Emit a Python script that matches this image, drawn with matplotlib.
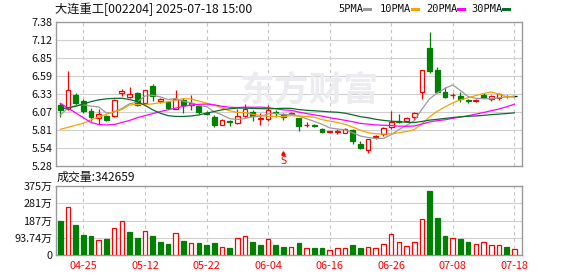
import numpy as np
import pandas as pd
import matplotlib
matplotlib.use("Agg")
import matplotlib.pyplot as plt
from matplotlib.lines import Line2D

plt.rcParams['font.family'] = ['Noto Sans CJK SC', 'DejaVu Sans']

# --- data ---
title = "大连重工[002204] 2025-07-18 15:00"

opens = [6.167, 6.109, 6.312, 6.225, 6.075, 5.969, 6.008, 5.998, 6.336, 6.278,
         6.345, 6.190, 6.445, 6.230, 6.215, 6.110, 6.240, 6.167, 6.155, 6.047,
         5.990, 5.875, 5.935, 5.900, 6.000, 6.070, 5.965, 5.955, 6.060, 6.030,
         6.035, 5.970, 5.870, 5.875, 5.810, 5.765, 5.770, 5.757, 5.800, 5.600,
         5.515, 5.700, 5.737, 5.849, 5.925, 5.936, 5.995, 6.359, 6.991, 6.670,
         6.359, 6.305, 6.300, 6.235, 6.228, 6.315, 6.258, 6.272, 6.300, 6.290]
highs = [6.200, 6.660, 6.336, 6.259, 6.119, 6.104, 6.020, 6.259, 6.400, 6.423,
         6.350, 6.385, 6.465, 6.274, 6.220, 6.390, 6.270, 6.310, 6.170, 6.085,
         6.022, 5.960, 5.950, 6.100, 6.180, 6.095, 6.046, 6.160, 6.095, 6.046,
         6.070, 5.980, 5.920, 5.890, 5.825, 5.785, 5.810, 5.835, 5.815, 5.640,
         5.675, 5.735, 5.840, 6.077, 6.030, 5.990, 6.058, 6.675, 7.224, 6.724,
         6.432, 6.345, 6.360, 6.260, 6.250, 6.335, 6.310, 6.335, 6.310, 6.300]
lows = [5.990, 6.095, 6.158, 6.046, 5.935, 5.887, 5.930, 5.990, 6.290, 6.274,
        6.153, 6.182, 6.230, 6.201, 6.100, 6.103, 6.050, 6.095, 6.037, 6.013,
        5.839, 5.870, 5.863, 5.887, 5.984, 5.925, 5.870, 5.935, 5.990, 5.950,
        6.020, 5.790, 5.840, 5.845, 5.760, 5.750, 5.740, 5.750, 5.601, 5.520,
        5.470, 5.670, 5.718, 5.815, 5.905, 5.922, 5.940, 6.252, 6.636, 6.335,
        6.272, 6.262, 6.213, 6.190, 6.215, 6.262, 6.225, 6.232, 6.262, 6.285]
closes = [6.095, 6.385, 6.192, 6.080, 5.990, 6.037, 5.940, 6.240, 6.369, 6.327,
          6.167, 6.380, 6.292, 6.255, 6.123, 6.258, 6.168, 6.190, 6.060, 6.032,
          5.875, 5.952, 5.912, 6.000, 6.103, 6.005, 5.975, 6.092, 6.046, 5.985,
          6.045, 5.865, 5.880, 5.860, 5.775, 5.780, 5.785, 5.815, 5.645, 5.540,
          5.670, 5.710, 5.824, 5.912, 5.920, 5.970, 6.053, 6.670, 6.665, 6.359,
          6.286, 6.312, 6.252, 6.228, 6.235, 6.268, 6.295, 6.325, 6.290, 6.290]
prev_close = 6.17  # close of the day before the first bar

# volume in 万
volume = [184, 262, 162, 109, 104, 80, 87, 145, 187, 125,
          91, 129, 104, 71, 61, 118, 77, 64, 66, 55,
          66, 46, 39, 91, 102, 71, 55, 86, 55, 45,
          43, 66, 38, 39, 39, 27, 38, 38, 54, 39,
          43, 38, 59, 112, 70, 48, 70, 198, 350, 200,
          104, 91, 87, 71, 59, 70, 54, 54, 45, 34.2659]

# moving averages at the start of the window (history before it not shown)
ma_head = {
    5: [6.02, 6.12, 6.16, 6.17],
    10: [5.81, 5.84, 5.87, 5.90, 5.95, 5.99, 6.03, 6.07, 6.10],
    20: [6.19, 6.12, 6.05, 5.98, 5.91, 5.88, 5.875, 5.88, 5.91, 5.94,
         5.98, 6.01, 6.04, 6.07, 6.095, 6.12, 6.145, 6.165, 6.175],
    30: [6.105, 6.125, 6.145, 6.18, 6.215, 6.24, 6.255, 6.262, 6.264, 6.245,
         6.216, 6.16, 6.095, 6.045, 6.01, 5.998, 5.998, 6.005, 6.02, 6.047,
         6.07, 6.095, 6.11, 6.12, 6.12, 6.115, 6.112, 6.11, 6.113],
}
ma_colors = {5: '#9a9a9a', 10: '#f5a300', 20: '#ff00ff', 30: '#0a6b2d'}

holidays = ['2025-05-01', '2025-05-02', '2025-05-05', '2025-06-02']
dates = [d for d in pd.bdate_range('2025-04-22', '2025-07-18').strftime('%Y-%m-%d')
         if d not in holidays]
date_ticks = ['04-25', '05-12', '05-22', '06-04', '06-16', '06-26', '07-08', '07-18']

price_ticks = np.linspace(5.28, 7.38, 9)
price_labels = ['5.28', '5.54', '5.81', '6.07', '6.33', '6.59', '6.85', '7.12', '7.38']
vol_ticks = [0, 93.74, 187.48, 281.22, 374.96]
vol_labels = ['0', '93.74万', '187万', '281万', '375万']

# --- figure ---
W, H = 578, 276
fig = plt.figure(figsize=(W / 100, H / 100), dpi=100)
fig.patch.set_facecolor('white')

ax = fig.add_axes([56 / W, 1 - 165.7 / H, 466 / W, 144 / H])
axv = fig.add_axes([56 / W, 1 - 255 / H, 466 / W, 69 / H])

RED = '#ff0000'
GREEN = '#008000'

o = np.array(opens)
h = np.array(highs)
lo = np.array(lows)
c = np.array(closes)
x = np.arange(len(c))
short = [d[5:] for d in dates]
tick_pos = [short.index(t) for t in date_ticks]

for a in (ax, axv):
    a.set_xlim(-0.56, 60.0)
    for s in a.spines.values():
        s.set_color('#9a9a9a')
        s.set_linewidth(1.0)
    a.tick_params(length=0, labelsize=7.8, colors='#111111', pad=2.5)
    for t in tick_pos:
        a.axvline(t, color='#c4c4c4', lw=0.8, ls=(0, (3, 3)), zorder=0)

# price pane
ax.set_ylim(5.28, 7.38)
ax.set_yticks(price_ticks, price_labels)
ax.set_xticks([])
for v in price_ticks[1:-1]:
    ax.axhline(v, color='#cfcfcf', lw=0.8, zorder=0)

col = np.where(c > o, RED, np.where(c < o, GREEN, '#000000'))
ax.vlines(x, lo, h, colors=col, lw=0.9, zorder=2)
bw = 0.62
for i in range(len(c)):
    if c[i] > o[i]:
        ax.bar(x[i], c[i] - o[i], bw, bottom=o[i], facecolor='white',
               edgecolor=RED, lw=0.9, zorder=3)
    elif c[i] < o[i]:
        ax.bar(x[i], o[i] - c[i], bw, bottom=c[i], facecolor=GREEN,
               edgecolor=GREEN, lw=0.9, zorder=3)
    else:
        ax.hlines(c[i], x[i] - bw / 2, x[i] + bw / 2, colors=col[i], lw=0.9, zorder=3)

for n, head in ma_head.items():
    tail = pd.Series(c).rolling(n).mean().to_numpy()[n - 1:]
    ma = np.concatenate([head, tail])
    ax.plot(x, ma, color=ma_colors[n], lw=0.9, zorder=4)

# watermark
fig.text(309 / W, 1 - 90 / H, '东方财富', fontsize=25, fontweight='bold',
         color='#ececf0', ha='center', va='center', zorder=0)

# sell marker
ax.plot(29, 5.28 + 0.085 * 2.1, marker='^', ms=2.5, color=RED, zorder=5)
ax.text(29, 5.28 + 0.035 * 2.1, 'S', color=RED, fontsize=7, ha='center',
        va='center', family='DejaVu Sans', zorder=5)

# volume pane
pc = np.concatenate([[prev_close], c[:-1]])
vol = np.array(volume)
axv.set_ylim(0, vol_ticks[-1])
axv.set_yticks(vol_ticks, vol_labels)
for v in vol_ticks[1:-1]:
    axv.axhline(v, color='#cfcfcf', lw=0.8, zorder=0)
up = c >= pc
axv.bar(x[up], vol[up], 0.6, facecolor='white', edgecolor=RED, lw=0.9, zorder=3)
axv.bar(x[~up], vol[~up], 0.6, facecolor=GREEN, edgecolor=GREEN, lw=0.9, zorder=3)
axv.set_xticks(tick_pos, date_ticks)
axv.tick_params(axis='x', colors=RED, pad=4)
for lab in axv.get_yticklabels():
    lab.set_color('#111111')

# texts
fig.text(55 / W, 1 - 9 / H, title, fontsize=8.8, ha='left', va='center', color='#111111')
fig.text(57 / W, 1 - 177.5 / H, '成交量:%d' % round(vol[-1] * 1e4), fontsize=8.6,
         ha='left', va='center', color='#111111')

leg_x = [338, 380, 426, 471]
for (n, colr), lx in zip(ma_colors.items(), leg_x):
    t = fig.text(lx / W, 1 - 9 / H, '%dPMA' % n, fontsize=7.5, ha='left',
                 va='center', family='DejaVu Sans Mono', color='#111111')
    x0 = lx + (26 if n == 5 else 32)
    fig.add_artist(Line2D([x0 / W, (x0 + 6) / W], [1 - 9 / H, 1 - 9 / H],
                          color=colr, lw=2.2, transform=fig.transFigure))

fig.savefig('out.png', dpi=100, facecolor='white')
